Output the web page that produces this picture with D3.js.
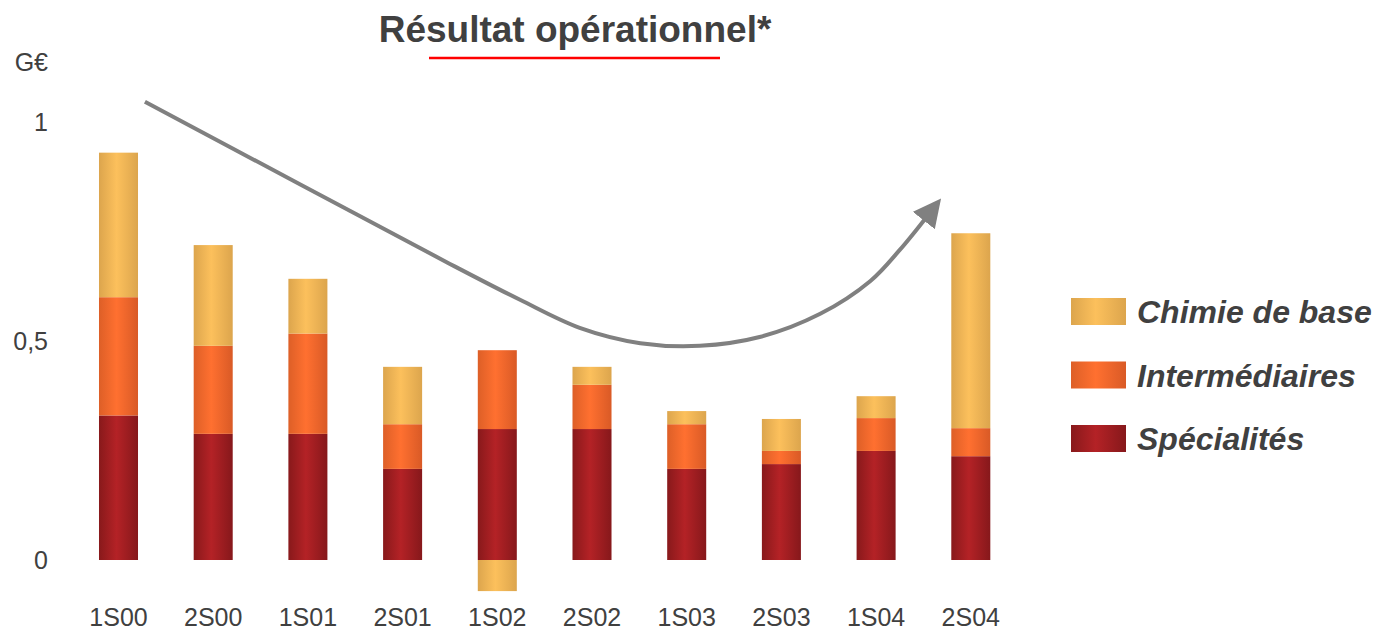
<!DOCTYPE html>
<html>
<head>
<meta charset="utf-8">
<script src="https://cdn.jsdelivr.net/npm/d3@7"></script>
<style>
  body { margin: 0; background: #fff; }
  text { font-family: Arial, "Liberation Sans", sans-serif; fill: #404040; }
</style>
</head>
<body>
<script>
// categories and stacked series, in G€
var periods = ['1S00', '2S00', '1S01', '2S01', '1S02', '2S02', '1S03', '2S03', '1S04', '2S04'];
var specialites = [0.33, 0.288, 0.288, 0.208, 0.299, 0.299, 0.208, 0.219, 0.249, 0.237];
var intermediaires = [0.27, 0.201, 0.229, 0.102, 0.18, 0.101, 0.102, 0.03, 0.075, 0.064];
var chimieBase = [0.33, 0.23, 0.125, 0.131, -0.071, 0.041, 0.03, 0.073, 0.05, 0.445];
var yTicks = [0, 0.5, 1];
var yTickLabels = ['0', '0,5', '1'];
var seriesKeys = ['spec', 'inter', 'chimie'];
var legendNames = ['Chimie de base', 'Intermédiaires', 'Spécialités'];
var legendKeys = ['chimie', 'inter', 'spec'];
// trend arrow, in (period index, value)
var trend = [[0.279, 1.046], [1.915, 0.858], [3.5, 0.676], [4.24, 0.594], [4.87, 0.53],
             [5.51, 0.495], [6.14, 0.489], [6.77, 0.509], [7.41, 0.562], [7.94, 0.637],
             [8.25, 0.708], [8.54, 0.785]];

var W = 1374, H = 631;
var svg = d3.select('body').append('svg').attr('width', W).attr('height', H);

var x = d3.scaleBand().domain(periods).range([71.15, 1018.15])
  .paddingInner(0.588).paddingOuter(0.294);
var y = d3.scaleLinear().domain([0, 1]).range([560, 122]);
var xi = d3.scaleLinear().domain([0, 1]).range([x(periods[0]) + x.bandwidth() / 2, x(periods[1]) + x.bandwidth() / 2]);

// gradients
var colors = {
  chimie: ['#dca54d', '#fcc05c', '#dca54d'],
  inter:  ['#dd5f27', '#ff7030', '#d95a26'],
  spec:   ['#88191b', '#b42226', '#86181b']
};
var defs = svg.append('defs');
Object.keys(colors).forEach(function(k) {
  var g = defs.append('linearGradient').attr('id', 'g-' + k)
    .attr('x1', '0%').attr('x2', '100%').attr('y1', '0%').attr('y2', '0%');
  g.append('stop').attr('offset', '0%').attr('stop-color', colors[k][0]);
  g.append('stop').attr('offset', '45%').attr('stop-color', colors[k][1]);
  g.append('stop').attr('offset', '100%').attr('stop-color', colors[k][2]);
});
defs.append('marker').attr('id', 'head').attr('viewBox', '0 0 10 10')
  .attr('refX', 2).attr('refY', 5).attr('markerWidth', 7).attr('markerHeight', 7)
  .attr('markerUnits', 'strokeWidth').attr('orient', 'auto')
  .append('path').attr('d', 'M0,0 L10,5 L0,10 z').attr('fill', '#808080');

// title
svg.append('text').attr('x', 575).attr('y', 42).attr('text-anchor', 'middle')
  .style('font-size', '37px').style('font-weight', 'bold').text('Résultat opérationnel*');
svg.append('line').attr('x1', 429).attr('x2', 720).attr('y1', 58).attr('y2', 58)
  .attr('stroke', '#ff0000').attr('stroke-width', 2.5);

// y axis labels
svg.append('text').attr('x', 48).attr('y', 71).attr('text-anchor', 'end')
  .style('font-size', '25px').text('G€');
svg.selectAll('.ytick').data(yTicks).enter().append('text')
  .attr('class', 'ytick')
  .attr('x', 48).attr('y', function(d) { return y(d) + 9; })
  .attr('text-anchor', 'end').style('font-size', '25px')
  .text(function(d, i) { return yTickLabels[i]; });

// stacked bars
var rows = periods.map(function(p, i) {
  return { period: p, spec: specialites[i], inter: intermediaires[i], chimie: chimieBase[i] };
});
var stacked = d3.stack().keys(seriesKeys).offset(d3.stackOffsetDiverging)(rows);

svg.selectAll('.layer').data(stacked).enter().append('g')
  .attr('class', 'layer')
  .attr('fill', function(d) { return 'url(#g-' + d.key + ')'; })
  .selectAll('rect').data(function(d) { return d; }).enter().append('rect')
  .attr('x', function(d) { return x(d.data.period); })
  .attr('width', x.bandwidth())
  .attr('y', function(d) { return y(Math.max(d[0], d[1])); })
  .attr('height', function(d) { return Math.abs(y(d[0]) - y(d[1])); });

// x labels
svg.selectAll('.xlab').data(periods).enter().append('text')
  .attr('class', 'xlab')
  .attr('x', function(d) { return x(d) + x.bandwidth() / 2; })
  .attr('y', 626).attr('text-anchor', 'middle').style('font-size', '25px')
  .text(function(d) { return d; });

// trend arrow
var line = d3.line().x(function(d) { return xi(d[0]); }).y(function(d) { return y(d[1]); })
  .curve(d3.curveCatmullRom);
svg.append('path').attr('d', line(trend)).attr('fill', 'none')
  .attr('stroke', '#808080').attr('stroke-width', 4).attr('marker-end', 'url(#head)');

// legend
var lg = svg.selectAll('.leg').data(legendKeys).enter().append('g')
  .attr('class', 'leg')
  .attr('transform', function(d, i) { return 'translate(1071,' + (298 + i * 63.5) + ')'; });
lg.append('rect').attr('width', 55).attr('height', 27)
  .attr('fill', function(d) { return 'url(#g-' + d + ')'; });
lg.append('text').attr('x', 66).attr('y', 25)
  .style('font-size', '32px').style('font-weight', 'bold').style('font-style', 'italic')
  .text(function(d, i) { return legendNames[i]; });
</script>
</body>
</html>
